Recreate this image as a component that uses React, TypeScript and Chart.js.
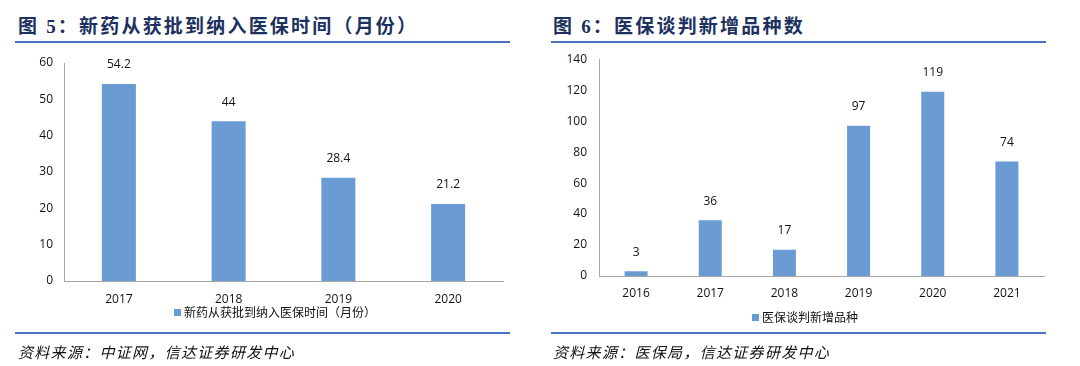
import React, { useEffect, useRef } from "react";
import { Chart, registerables } from "chart.js";

Chart.register(...registerables);

// ---- Data ----
const leftCategories = ["2017", "2018", "2019", "2020"];
const leftValues = [54.2, 44, 28.4, 21.2];
const leftSeriesName = "新药从获批到纳入医保时间（月份）";
const leftTitle = "图 5：新药从获批到纳入医保时间（月份）";
const leftSource = "资料来源：中证网，信达证券研发中心";

const rightCategories = ["2016", "2017", "2018", "2019", "2020", "2021"];
const rightValues = [3, 36, 17, 97, 119, 74];
const rightSeriesName = "医保谈判新增品种";
const rightTitle = "图 6：医保谈判新增品种数";
const rightSource = "资料来源：医保局，信达证券研发中心";

const BAR = "#6b9bd3";
const NAVY = "#1c3160";
const RULE = "#4a72c1";
const FONT = "'Open Sans', 'Noto Sans CJK SC', sans-serif";

const valueLabels = {
  id: "valueLabels",
  afterDatasetsDraw(chart: any) {
    const ctx = chart.ctx;
    const meta = chart.getDatasetMeta(0);
    const data = chart.data.datasets[0].data;
    ctx.save();
    ctx.font = `12px ${FONT}`;
    ctx.fillStyle = "#111";
    ctx.textAlign = "center";
    ctx.textBaseline = "bottom";
    meta.data.forEach((bar: any, i: number) => {
      ctx.fillText(String(data[i]), bar.x, bar.y - 13);
    });
    ctx.restore();
  },
};

type PanelProps = {
  categories: string[];
  values: number[];
  max: number;
  step: number;
  yWidth: number;
  padding: { left: number; right: number; top: number; bottom: number };
  xHeight: number;
  xPad: number;
  yPad: number;
};

function BarChart(p: PanelProps) {
  const ref = useRef<HTMLCanvasElement>(null);
  useEffect(() => {
    const chart = new Chart(ref.current!, {
      type: "bar",
      data: {
        labels: p.categories,
        datasets: [
          {
            data: p.values,
            backgroundColor: BAR,
            categoryPercentage: 1,
            barPercentage: 0.31,
          },
        ],
      },
      options: {
        animation: false,
        responsive: false,
        maintainAspectRatio: false,
        layout: { padding: p.padding, autoPadding: false },
        plugins: { legend: { display: false }, tooltip: { enabled: false } },
        scales: {
          x: {
            grid: { display: false, drawTicks: false },
            border: { display: true, color: "#a6a6a6", width: 1 },
            ticks: { color: "#111", font: { family: FONT, size: 12 }, padding: p.xPad, maxRotation: 0 },
            afterFit: (s: any) => {
              s.height = p.xHeight;
            },
          },
          y: {
            min: 0,
            max: p.max,
            grid: { display: false, drawTicks: false },
            border: { display: true, color: "#a6a6a6", width: 1 },
            ticks: { stepSize: p.step, color: "#111", font: { family: FONT, size: 12 }, padding: p.yPad },
            afterFit: (s: any) => {
              s.width = p.yWidth;
            },
          },
        },
      },
      plugins: [valueLabels],
    });
    return () => chart.destroy();
  }, []);
  return <canvas ref={ref} width={540} height={270} style={{ width: 540, height: 270, display: "block" }} />;
}

function Legend({ text, center, top }: { text: string; center: number; top: number }) {
  return (
    <div
      style={{
        position: "absolute",
        left: center - 200,
        width: 400,
        top,
        textAlign: "center",
        fontFamily: FONT,
        fontSize: 12,
        lineHeight: "16px",
        color: "#111",
        whiteSpace: "nowrap",
      }}
    >
      <span style={{ display: "inline-block", width: 7, height: 7, background: BAR, marginRight: 3, verticalAlign: "1px" }} />
      {text}
    </div>
  );
}

function Panel({ x, title, source, children }: { x: number; title: string; source: string; children: any }) {
  return (
    <div style={{ position: "absolute", left: x, top: 0, width: 540, height: 366 }}>
      <div
        style={{
          position: "absolute",
          left: 18 - (x ? 5 : 0),
          top: 14,
          fontFamily: "'Liberation Serif', 'Noto Sans CJK SC', serif",
          fontWeight: "bold",
          fontSize: 19,
          letterSpacing: 2.2,
          lineHeight: "25px",
          color: NAVY,
          whiteSpace: "nowrap",
        }}
      >
        {title}
      </div>
      <div style={{ position: "absolute", left: 15 - (x ? 4 : 0), width: 495, top: 41, height: 2, background: RULE }} />
      {children}
      <div style={{ position: "absolute", left: 15 - (x ? 4 : 0), width: 495, top: 332, height: 2, background: RULE }} />
      <div
        style={{
          position: "absolute",
          left: 18 - (x ? 5 : 0),
          top: 342,
          fontFamily: "'Noto Sans CJK SC', sans-serif",
          fontStyle: "italic",
          fontSize: 15,
          letterSpacing: 1.3,
          lineHeight: "20px",
          color: "#111",
          whiteSpace: "nowrap",
        }}
      >
        {source}
      </div>
    </div>
  );
}

export default function App() {
  return (
    <div style={{ position: "absolute", left: 0, top: 0, width: 1080, height: 366, background: "#fff", overflow: "hidden" }}>
      <Panel x={0} title={leftTitle} source={leftSource}>
        <div style={{ position: "absolute", left: 0, top: 40 }}>
          <BarChart
            categories={leftCategories}
            values={leftValues}
            max={60}
            step={10}
            yWidth={64}
            padding={{ left: 0, right: 37, top: 23, bottom: 0 }}
            xHeight={29}
            xPad={11}
            yPad={11}
          />
        </div>
        <Legend text={leftSeriesName} center={275} top={305} />
      </Panel>
      <Panel x={540} title={rightTitle} source={rightSource}>
        <div style={{ position: "absolute", left: 0, top: 40 }}>
          <BarChart
            categories={rightCategories}
            values={rightValues}
            max={140}
            step={20}
            yWidth={59}
            padding={{ left: 0, right: 36, top: 18, bottom: 0 }}
            xHeight={34}
            xPad={10}
            yPad={12}
          />
        </div>
        <Legend text={rightSeriesName} center={265} top={310} />
      </Panel>
    </div>
  );
}
